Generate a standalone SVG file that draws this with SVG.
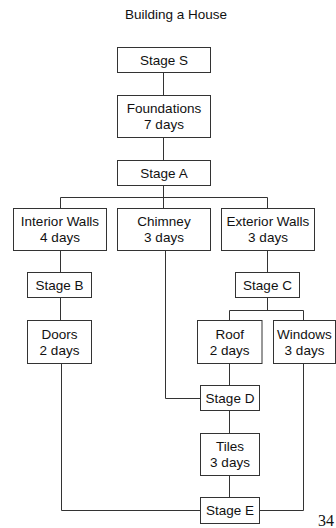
<svg xmlns="http://www.w3.org/2000/svg" width="336" height="528" viewBox="0 0 336 528">
<style>
.box{fill:#fff;stroke:#333;stroke-width:1}
.t{font-family:"Liberation Sans",Arial,sans-serif;font-size:13.5px;fill:#111;text-anchor:middle}
.c{fill:none;stroke:#333;stroke-width:1}
</style>
<rect width="336" height="528" fill="#fff"/>
<text class="t" x="176" y="19">Building a House</text>
<g id="connectors">
<path class="c" d="M163.5 72.5V95.5M163.5 137.5V160.5M163.5 185.5V208.5M60.5 208.5V197.5H267.5V208.5"/>
<path class="c" d="M60.5 250.5V272.5M60.5 297.5V320.5M267.5 250.5V272.5M267.5 297.5V310.5M229.5 320.5V310.5H303.5V320.5"/>
<path class="c" d="M165.5 250.5V398.5H200.5M229.5 363.5V385.5M229.5 410.5V433.5M229.5 475.5V497.5"/>
<path class="c" d="M61.5 363.5V510.5H200.5M303.5 363.5V510.5H259.5"/>
</g>
<g id="stageS"><rect class="box" x="117.5" y="47.5" width="93" height="25"/><text class="t" x="164" y="65">Stage S</text></g>
<g id="foundations"><rect class="box" x="117.5" y="95.5" width="93" height="42"/><text class="t" x="164" y="113.3">Foundations</text><text class="t" x="164" y="129.3">7 days</text></g>
<g id="stageA"><rect class="box" x="117.5" y="160.5" width="93" height="25"/><text class="t" x="164" y="178">Stage A</text></g>
<g id="interiorWalls"><rect class="box" x="13.5" y="208.5" width="93" height="42"/><text class="t" x="60" y="226.3">Interior Walls</text><text class="t" x="60" y="242.3">4 days</text></g>
<g id="chimney"><rect class="box" x="117.5" y="208.5" width="93" height="42"/><text class="t" x="164" y="226.3">Chimney</text><text class="t" x="164" y="242.3">3 days</text></g>
<g id="exteriorWalls"><rect class="box" x="221.5" y="208.5" width="93" height="42"/><text class="t" x="268" y="226.3">Exterior Walls</text><text class="t" x="268" y="242.3">3 days</text></g>
<g id="stageB"><rect class="box" x="27.5" y="272.5" width="64" height="25"/><text class="t" x="59.5" y="290">Stage B</text></g>
<g id="stageC"><rect class="box" x="235.5" y="272.5" width="64" height="25"/><text class="t" x="267.5" y="290">Stage C</text></g>
<g id="doors"><rect class="box" x="27.5" y="320.5" width="64" height="43"/><text class="t" x="59.5" y="338.8">Doors</text><text class="t" x="59.5" y="354.8">2 days</text></g>
<g id="roof"><rect class="box" x="197.5" y="320.5" width="64.5" height="43"/><text class="t" x="229.7" y="338.8">Roof</text><text class="t" x="229.7" y="354.8">2 days</text></g>
<g id="windows"><rect class="box" x="273.5" y="320.5" width="62" height="43"/><text class="t" x="304.5" y="338.8">Windows</text><text class="t" x="304.5" y="354.8">3 days</text></g>
<g id="stageD"><rect class="box" x="200.5" y="385.5" width="59" height="25"/><text class="t" x="230" y="403">Stage D</text></g>
<g id="tiles"><rect class="box" x="200.5" y="433.5" width="59" height="42"/><text class="t" x="230" y="451.3">Tiles</text><text class="t" x="230" y="467.3">3 days</text></g>
<g id="stageE"><rect class="box" x="200.5" y="497.5" width="59" height="26"/><text class="t" x="230" y="515.3">Stage E</text></g>
<text x="318" y="526" font-family="'Liberation Serif','Times New Roman',serif" font-size="16" fill="#111">34</text>
</svg>
